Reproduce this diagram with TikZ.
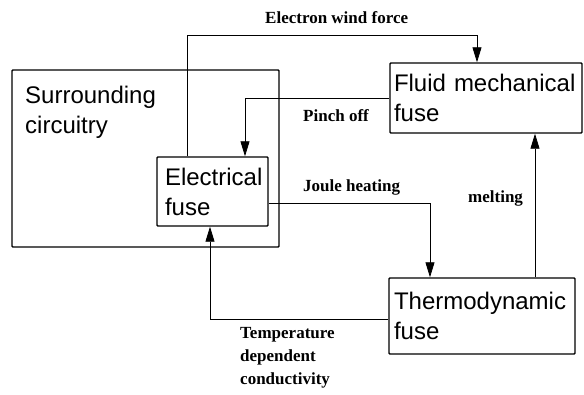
\documentclass[tikz,border=0pt]{standalone}
\usepackage{fontspec}
\setmainfont{Liberation Serif}
\setsansfont{Liberation Sans}
\usetikzlibrary{arrows.meta}
\begin{document}
\begin{tikzpicture}[x=1pt,y=-1pt,
  fusebox/.style={draw,line width=1.4pt,rounded corners=0.8pt,align=left,inner xsep=6pt,inner ysep=0pt,
    font=\sffamily\fontsize{24}{30}\selectfont},
  lbl/.style={font=\bfseries\fontsize{17}{23}\selectfont,inner sep=0pt,align=left},
  conn/.style={line width=0.8pt},
  arr/.style={conn,-{Triangle[length=15pt,width=9pt]}}]
\useasboundingbox (0,0) rectangle (584,394);
\node[draw,line width=1.4pt,rounded corners=0.8pt,minimum width=267pt,minimum height=177pt,inner sep=0pt] (sur) at (145.5,158.5) {};
\node[anchor=west,inner sep=0pt,align=left,font=\sffamily\fontsize{24}{30}\selectfont] (surt) at (25,112) {Surrounding\\circuitry};
\node[fusebox,minimum width=111pt,minimum height=69pt,text width=95pt,inner xsep=8pt] (elec) at (212.5,191.5) {Electrical\\fuse};
\node[fusebox,minimum width=192pt,minimum height=70pt,text width=184pt,inner xsep=4pt] (fluid) at (486,98) {\mbox{Fluid mechanical}\\fuse};
\node[fusebox,minimum width=186pt,minimum height=76pt,text width=176pt,inner xsep=5pt] (thermo) at (482,316) {\mbox{Thermodynamic}\\fuse};
\coordinate (w1) at (187,35);
\coordinate (w2) at (477,35);
\draw[arr] (w1 |- elec.north) -- (w1) -- (w2) -- (w2 |- fluid.north);
\coordinate (p1) at (245,98);
\draw[arr] (fluid.west) -- (p1) -- (p1 |- elec.north);
\coordinate (j1) at (430,203);
\draw[arr] (j1 -| elec.east) -- (j1) -- (j1 |- thermo.north);
\coordinate (m1) at (535,200);
\draw[arr] (m1 |- thermo.north) -- (m1 |- fluid.south);
\coordinate (t1) at (210,319);
\draw[arr] (t1 -| thermo.west) -- (t1) -- (t1 |- elec.south);
\node[lbl,anchor=west] (lw) at (265,18) {Electron wind force};
\node[lbl,anchor=west] (lp) at (303,116) {Pinch off};
\node[lbl,anchor=west] (lj) at (303,187) {Joule heating};
\node[lbl,anchor=west] (lm) at (468,198) {melting};
\node[lbl,anchor=north west] (lt) at (240,327) {Temperature\\dependent\\conductivity};
\end{tikzpicture}
\end{document}
